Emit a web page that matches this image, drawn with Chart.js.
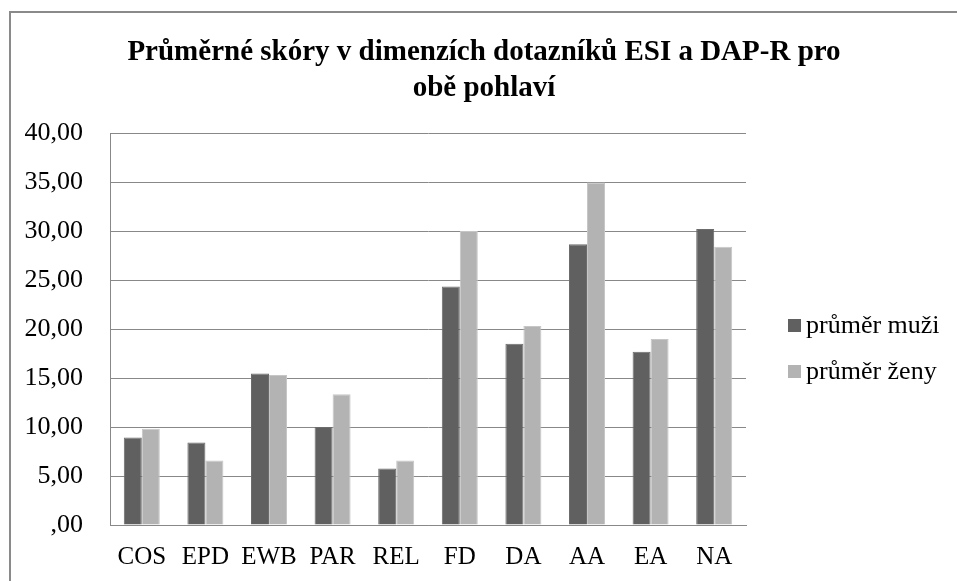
<!DOCTYPE html>
<html>
<head>
<meta charset="utf-8">
<script src="https://cdn.jsdelivr.net/npm/chart.js@4"></script>
<style>
html,body{margin:0;padding:0;background:#fff;overflow:hidden;}
#wrap{position:absolute;left:0;top:0;width:957px;height:581px;}
</style>
</head>
<body>
<div id="wrap"><canvas id="c" width="957" height="581"></canvas></div>
<script>
const categories = ['COS','EPD','EWB','PAR','REL','FD','DA','AA','EA','NA'];
const seriesNames = ['průměr muži','průměr ženy'];
const menValues = [8.93, 8.42, 15.45, 10.0, 5.77, 24.34, 18.5, 28.64, 17.69, 30.2];
const womenValues = [9.81, 6.59, 15.3, 13.35, 6.59, 30.0, 20.3, 34.95, 18.97, 28.4];
const yTickLabels = [',00','5,00','10,00','15,00','20,00','25,00','30,00','35,00','40,00'];
const titleLines = ['Průměrné skóry v dimenzích dotazníků ESI a DAP-R pro','obě pohlaví'];

const FONT = "'Liberation Serif','Times New Roman',serif";
const GRID = '#888888';

const frame = {
  id:'frame',
  beforeDraw(chart){
    const ctx = chart.ctx;
    ctx.save();
    ctx.fillStyle = '#fff';
    ctx.fillRect(0,0,chart.width,chart.height);
    ctx.fillStyle = '#8a8a8a';
    ctx.fillRect(9,11,chart.width-9,2);
    ctx.fillRect(9,11,2,chart.height-11);
    ctx.restore();
  }
};

const titlePlugin = {
  id:'customTitle',
  afterDraw(chart){
    const ctx = chart.ctx;
    ctx.save();
    ctx.font = "bold 29px " + FONT;
    ctx.fillStyle = '#000';
    ctx.textAlign = 'center';
    ctx.textBaseline = 'alphabetic';
    const ys = [60, 96];
    titleLines.forEach((t,i)=>ctx.fillText(t, 484, ys[i]));
    ctx.restore();
  }
};

const legendPlugin = {
  id:'customLegend',
  afterDraw(chart){
    const ctx = chart.ctx;
    ctx.save();
    ctx.font = "26px " + FONT;
    ctx.textBaseline = 'alphabetic';
    ctx.textAlign = 'left';
    const ys = [333, 379];
    chart.data.datasets.forEach((ds,i)=>{
      ctx.fillStyle = ds.backgroundColor;
      ctx.fillRect(788, ys[i]-14, 13, 13);
      ctx.fillStyle = '#000';
      ctx.fillText(ds.label, 806, ys[i]);
    });
    ctx.restore();
  }
};

new Chart(document.getElementById('c'), {
  type:'bar',
  data:{
    labels: categories,
    datasets:[
      {label: seriesNames[0], data: menValues, backgroundColor:'#606060', borderColor:'#6c6c6c', borderWidth:{top:1,left:1,right:1,bottom:0}},
      {label: seriesNames[1], data: womenValues, backgroundColor:'#b3b3b3', borderColor:'#c6c6c6', borderWidth:{top:1,left:1,right:1,bottom:0}}
    ]
  },
  options:{
    responsive:false,
    animation:false,
    devicePixelRatio:1,
    layout:{padding:{left:0,right:211,top:133,bottom:0}},
    categoryPercentage:0.566,
    barPercentage:1.0,
    plugins:{
      legend:{display:false},
      tooltip:{enabled:false},
      title:{display:false}
    },
    scales:{
      x:{
        grid:{display:false,drawTicks:false},
        border:{display:true,color:GRID,width:1},
        ticks:{color:'#000',font:{family:FONT,size:25},padding:17,maxRotation:0,autoSkip:false},
        afterFit(scale){ scale.height = 56; }
      },
      y:{
        min:0,max:40,
        grid:{color:GRID,lineWidth:1,drawTicks:false},
        border:{display:true,color:GRID,width:1},
        ticks:{
          stepSize:5,
          color:'#000',
          font:{family:FONT,size:26},
          padding:27,
          callback:(v,i)=>yTickLabels[i]
        },
        afterFit(scale){ scale.width = 110; }
      }
    }
  },
  plugins:[frame, titlePlugin, legendPlugin]
});
</script>
</body>
</html>
